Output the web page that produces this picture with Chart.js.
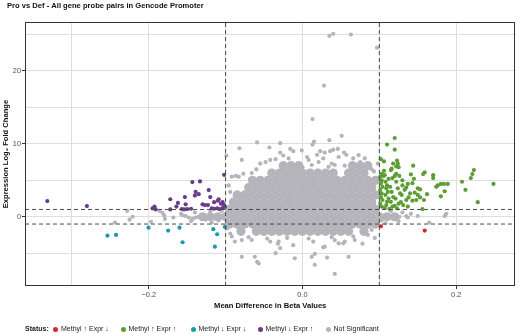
<!DOCTYPE html>
<html><head><meta charset="utf-8">
<script src="https://cdn.jsdelivr.net/npm/chart.js@4/dist/chart.umd.min.js"></script>
<style>
html,body{margin:0;padding:0;background:#fff;}
#wrap{position:relative;width:520px;height:333px;overflow:hidden;}
#legend{position:absolute;left:0;top:323px;height:12px;width:520px;font-family:'Liberation Sans',Arial,sans-serif;font-size:7px;color:#222;}
#legend span{position:absolute;top:0;line-height:12px;white-space:nowrap;}
#legend i{position:absolute;top:3.5px;width:5px;height:5px;border-radius:50%;}
</style></head><body>
<div id="wrap"><canvas id="c" width="520" height="333"></canvas><div id="legend"></div></div>
<script>
// ---------- data ----------
const chartTitle = 'Pro vs Def - All gene probe pairs in Gencode Promoter';
const xTitle = 'Mean Difference in Beta Values';
const yTitle = 'Expression Log\u2082 Fold Change';
const legendTitle = 'Status:';
const statusLabels = ['Methyl \u2191 Expr \u2193','Methyl \u2191 Expr \u2191','Methyl \u2193 Expr \u2193','Methyl \u2193 Expr \u2191','Not Significant'];
const statusColors = ['#d42a2a','#5c9e36','#1f9aaa','#6a3a8c','#b4b4ba'];
const xGridValues = [-0.3,-0.2,-0.1,0,0.1,0.2];
const xLabelValues = [-0.2,0,0.2];
const yGridValues = [-5,0,5,10,15,20,25];
const yLabelValues = [0,10,20];
const xRange = [-0.361,0.277];
const yRange = [-9.5,26.7];
const methylCut = 0.1;
const exprCut = 1;

const redPoints = [[0.102,-1.3],[0.159,-1.9]];

const tealPoints = [[-0.2537,-2.6],[-0.2425,-2.5],[-0.2003,-1.5],[-0.1748,-1.9],[-0.160,-1.5],
 [-0.156,-3.5],[-0.116,-1.7],[-0.111,-2.4],[-0.114,-4.1],[-0.101,-1.4]];

const purplePoints = [[-0.332,2.15],[-0.2805,1.47],[-0.1925,1.4],[-0.195,1.15],[-0.191,1.0],
 [-0.172,2.4],[-0.172,1.0],[-0.164,1.4],[-0.162,1.9],[-0.157,1.05],[-0.154,1.0],[-0.150,1.05],
 [-0.153,2.7],[-0.152,1.7],[-0.1433,4.75],[-0.1333,4.85],[-0.122,3.66],[-0.139,3.4],[-0.135,3.1],
 [-0.140,2.9],[-0.130,1.7],[-0.127,1.6],[-0.123,1.6],[-0.118,1.15],[-0.115,1.1],[-0.111,1.15],
 [-0.115,2.0],[-0.109,2.4],[-0.110,2.2],[-0.104,2.0],[-0.102,1.6],[-0.104,1.2],[-0.101,1.4],
 [-0.102,5.75],[-0.145,1.1],[-0.108,1.05],[-0.106,1.8],[-0.120,2.7]];

const greenPoints = [[0.120,10.8],[0.110,9.9],[0.120,9.2],[0.102,7.9],[0.106,7.6],
 [0.118,7.3],[0.123,7.7],[0.124,7.3],[0.122,6.9],[0.125,6.8],[0.116,6.6],[0.144,7.0],
 [0.103,5.9],[0.105,5.6],[0.107,5.7],[0.122,5.9],[0.126,5.6],[0.120,5.6],
 [0.141,5.8],[0.157,5.85],[0.159,6.1],[0.170,5.7],[0.170,5.3],[0.145,5.2],
 [0.137,4.5],[0.143,4.6],[0.150,3.9],[0.153,3.75],
 [0.174,4.1],[0.176,4.3],[0.180,4.5],[0.184,4.5],[0.189,4.5],[0.185,3.5],[0.180,2.8],
 [0.2075,4.8],[0.212,3.7],[0.219,5.3],[0.221,5.85],[0.223,6.4],[0.228,2.0],[0.2485,4.5],[0.158,2.3],
 [0.101,5.5],[0.103,5.0],[0.102,4.6],[0.104,4.1],[0.101,3.7],[0.103,3.2],[0.102,2.7],[0.104,2.3],[0.101,1.8],[0.103,1.4],
 [0.108,4.8],[0.110,4.3],[0.109,3.9],[0.111,3.4],[0.108,3.0],[0.112,2.5],[0.110,2.05],[0.109,1.6],
 [0.115,6.4],[0.117,5.3],[0.114,4.1],[0.116,3.4],[0.118,2.7],[0.115,2.05],[0.117,1.4],
 [0.122,4.8],[0.124,3.9],[0.127,3.2],[0.121,2.5],[0.125,1.8],[0.123,1.15],
 [0.130,4.3],[0.133,3.7],[0.129,3.0],[0.135,2.3],[0.131,1.6],
 [0.140,3.2],[0.138,2.65],[0.143,2.2],[0.137,1.4],
 [0.150,3.0],[0.153,2.65],[0.148,2.3],[0.156,1.05],
 [0.107,1.2],[0.113,1.1],[0.120,1.5],[0.128,2.0],[0.106,6.3],[0.112,5.2],[0.130,5.0],[0.135,4.0],[0.146,3.3],[0.162,3.1]];

const grayPoints = [[0.035,24.8],[0.040,25.1],[0.063,25.0],[0.097,23.2],[0.028,18.0],[0.013,13.4],[0.051,11.1],
 [0.035,10.5],[0.015,10.3],[0.013,9.9],[-0.059,10.2],[-0.029,10.1],[-0.043,9.5],[-0.082,9.4],
 [-0.079,7.8],[-0.099,8.4],[-0.077,5.9],[-0.092,5.5],[-0.087,5.6],[-0.083,5.5],[-0.096,4.3],[-0.094,3.4],
 [-0.016,9.3],[-0.012,9.0],[-0.001,9.1],[0.023,9.0],[0.029,8.8],[0.036,9.0],[0.040,9.2],[0.046,9.3],[0.054,8.8],
 [-0.066,6.0],[-0.055,7.3],[-0.048,7.5],[-0.042,7.8],[-0.035,7.9],[-0.029,8.8],[-0.025,8.4],[-0.018,8.0],
 [0.006,8.2],[0.008,7.8],[0.019,8.5],[0.027,8.0],[0.021,7.5],[0.047,8.2],[0.057,8.5],[0.066,8.0],[0.073,8.45],
 [0.075,7.5],[0.081,8.0],[0.085,7.3],[0.034,6.85],[0.038,7.3],[0.042,7.1],[0.098,7.3],
 [-0.010,7.0],[-0.025,7.0],[0.000,6.8],[0.012,7.1],[0.055,7.0],[0.065,7.2],[0.090,6.5],[0.095,5.0],[0.093,6.2],
 [-0.060,6.5],[-0.068,5.2],
 [-0.228,0.8],[-0.221,0.0],[-0.225,-0.4],[-0.244,-0.8],[-0.197,-0.7],[-0.186,0.8],[-0.180,0.2],[-0.179,-0.3],
 [-0.168,-0.1],[-0.182,0.5],[-0.158,0.4],[-0.156,0.2],[-0.152,0.1],[-0.148,-0.1],[-0.143,-0.3],[-0.139,-0.1],
 [-0.135,0.0],[-0.130,-0.2],[-0.126,-0.4],[-0.117,-0.1],[-0.113,-0.3],[-0.109,-0.5],[-0.140,0.6],[-0.120,0.7],
 [-0.105,0.8],[-0.145,-0.6],[-0.118,-0.8],
 [0.150,0.1],[0.165,-0.8],[0.185,0.1],[0.187,0.4],[0.126,0.0],[0.135,0.1],[0.137,-0.1],[0.141,0.4],
 [0.103,-0.5],[0.111,0.0],[0.118,-0.3],[0.122,-0.1],[0.094,-2.9],[0.130,0.6],[0.115,0.8],[0.108,-0.9],[0.125,-0.6],
 [-0.079,-5.5],[-0.062,-5.5],[-0.059,-6.2],[-0.057,-6.4],[-0.035,-5.0],[-0.029,-4.3],[-0.031,-3.4],[-0.032,-3.7],
 [-0.012,-3.9],[-0.010,-5.7],[0.012,-5.5],[0.016,-5.1],[0.016,-6.6],[0.032,-5.6],[0.027,-4.2],[0.029,-4.1],
 [0.042,-7.85],[0.060,-5.5],[0.053,-3.65],[0.055,-3.4],[0.078,-3.7],[-0.066,-3.2],[-0.070,-2.8],[-0.079,-3.2],
 [-0.094,-2.3],[-0.092,-2.7],[-0.046,-3.0],[-0.042,-3.4],[0.008,-3.0],[0.014,-3.4],[0.038,-2.8],[0.042,-3.2],
 [0.047,-3.65],[0.066,-2.7],[0.068,-3.2],[-0.088,-3.4],[-0.020,-2.9],[0.085,-2.5],[0.090,-1.8],[-0.098,-1.6]];

// dense centre of the not-significant cloud (drawn with larger dots)
const grayCorePoints = [
 [-0.025,7],[-0.015,7],[-0.005,7],[0.065,7],[0.075,7],[0.085,7],
 [-0.04,6],[-0.03,6],[-0.02,6],[-0.01,6],[0,6],[0.01,6],[0.02,6],[0.03,6],[0.04,6],[0.06,6],[0.07,6],[0.08,6],
 [-0.065,5],[-0.055,5],[-0.045,5],[-0.035,5],[-0.025,5],[-0.015,5],[-0.005,5],[0.005,5],[0.015,5],[0.025,5],
 [0.035,5],[0.045,5],[0.055,5],[0.065,5],[0.075,5],[0.085,5],[0.095,5],
 [-0.07,4],[-0.06,4],[-0.05,4],[-0.04,4],[-0.03,4],[-0.02,4],[-0.01,4],[0,4],[0.01,4],[0.02,4],[0.03,4],
 [0.04,4],[0.05,4],[0.06,4],[0.07,4],[0.08,4],[0.09,4],
 [-0.085,3],[-0.075,3],[-0.065,3],[-0.055,3],[-0.045,3],[-0.035,3],[-0.025,3],[-0.015,3],[-0.005,3],[0.005,3],
 [0.015,3],[0.025,3],[0.035,3],[0.045,3],[0.055,3],[0.065,3],[0.075,3],[0.085,3],[0.095,3],
 [-0.09,2],[-0.08,2],[-0.07,2],[-0.06,2],[-0.05,2],[-0.04,2],[-0.03,2],[-0.02,2],[-0.01,2],[0,2],[0.01,2],
 [0.02,2],[0.03,2],[0.04,2],[0.05,2],[0.06,2],[0.07,2],[0.08,2],[0.09,2],
 [-0.095,1],[-0.085,1],[-0.075,1],[-0.065,1],[-0.055,1],[-0.045,1],[-0.035,1],[-0.025,1],[-0.015,1],[-0.005,1],
 [0.005,1],[0.015,1],[0.025,1],[0.035,1],[0.045,1],[0.055,1],[0.065,1],[0.075,1],[0.085,1],[0.095,1],
 [-0.13,0],[-0.12,0],[-0.11,0],[-0.1,0],[-0.09,0],[-0.08,0],[-0.07,0],[-0.06,0],[-0.05,0],[-0.04,0],[-0.03,0],
 [-0.02,0],[-0.01,0],[0,0],[0.01,0],[0.02,0],[0.03,0],[0.04,0],[0.05,0],[0.06,0],[0.07,0],[0.08,0],[0.09,0],
 [0.1,0],[0.11,0],[0.12,0],
 [-0.095,-1],[-0.085,-1],[-0.075,-1],[-0.065,-1],[-0.055,-1],[-0.045,-1],[-0.035,-1],[-0.025,-1],[-0.015,-1],
 [-0.005,-1],[0.005,-1],[0.015,-1],[0.025,-1],[0.035,-1],[0.045,-1],[0.055,-1],[0.065,-1],[0.075,-1],[0.085,-1],[0.095,-1],
 [-0.08,-2],[-0.06,-2],[-0.05,-2],[-0.04,-2],[-0.03,-2],[-0.02,-2],[-0.01,-2],[0,-2],[0.01,-2],[0.02,-2],
 [0.03,-2],[0.04,-2],[0.05,-2],[0.06,-2],[0.08,-2]];

// ---------- chart ----------
const FONT = "'Liberation Sans', Arial, Helvetica, sans-serif";
const pts = a => a.map(p => ({x: p[0], y: p[1]}));
const near = (v, list) => list.some(m => Math.abs(m - v) < 1e-9);
const fmtX = v => Math.abs(v) < 1e-9 ? '0.0' : (v < 0 ? '\u2212' : '') + Math.abs(v).toFixed(1);

function refLine(data) {
  return {type: 'line', data: pts(data), borderColor: '#4a4a4a', borderWidth: 1, borderDash: [4, 3],
          pointRadius: 0, showLine: true, fill: false, tension: 0};
}
function dots(data, color, r) {
  return {type: 'scatter', data: pts(data), pointRadius: r, pointHoverRadius: r,
          pointBackgroundColor: color, pointBorderWidth: 0, borderColor: color, backgroundColor: color};
}

const frame = {
  id: 'frame',
  afterDraw(chart) {
    const {ctx, chartArea: a} = chart;
    ctx.save();
    ctx.strokeStyle = '#333';
    ctx.lineWidth = 1;
    ctx.strokeRect(Math.round(a.left) + 0.5, Math.round(a.top) + 0.5,
                   Math.round(a.right - a.left) - 1, Math.round(a.bottom - a.top) - 1);
    ctx.restore();
  }
};

new Chart(document.getElementById('c'), {
  type: 'scatter',
  data: {
    datasets: [
      refLine([[-methylCut, yRange[0]], [-methylCut, yRange[1]]]),
      refLine([[methylCut, yRange[0]], [methylCut, yRange[1]]]),
      refLine([[xRange[0], exprCut], [xRange[1], exprCut]]),
      refLine([[xRange[0], -exprCut], [xRange[1], -exprCut]]),
      dots(redPoints, statusColors[0], 2.1),
      dots(greenPoints, statusColors[1], 2.1),
      dots(tealPoints, statusColors[2], 2.1),
      dots(purplePoints, statusColors[3], 2.1),
      dots(grayPoints, statusColors[4], 2.1),
      dots(grayCorePoints, statusColors[4], 4.6)
    ]
  },
  options: {
    responsive: false, animation: false, devicePixelRatio: 1,
    layout: {padding: {left: 7, right: 2, top: 0, bottom: 20}},
    plugins: {
      legend: {display: false},
      tooltip: {enabled: false},
      title: {display: true, text: chartTitle, align: 'start', color: '#111',
              font: {family: FONT, size: 7.6, weight: 'bold'}, padding: {top: 1, bottom: 12}}
    },
    scales: {
      x: {
        type: 'linear', min: xRange[0], max: xRange[1],
        afterBuildTicks: s => { s.ticks = xGridValues.map(v => ({value: v})); },
        afterFit: s => { s.height = 27; },
        ticks: {padding: 2, color: '#4d4d4d', font: {family: FONT, size: 7.4},
                callback: v => near(v, xLabelValues) ? fmtX(v) : ''},
        grid: {color: '#dedede', lineWidth: 1, tickLength: 3,
               tickColor: c => (c.tick && near(c.tick.value, xLabelValues)) ? '#333' : 'rgba(0,0,0,0)'},
        border: {display: false},
        title: {display: true, text: xTitle, color: '#111', font: {family: FONT, size: 7.6, weight: 'bold'},
                padding: {top: 0, bottom: 2.5}}
      },
      y: {
        type: 'linear', min: yRange[0], max: yRange[1],
        afterBuildTicks: s => { s.ticks = yGridValues.map(v => ({value: v})); },
        afterFit: s => { s.width = 18; },
        ticks: {padding: 1, color: '#4d4d4d', font: {family: FONT, size: 7.4},
                callback: v => near(v, yLabelValues) ? String(v) : ''},
        grid: {color: '#dedede', lineWidth: 1, tickLength: 3,
               tickColor: c => (c.tick && near(c.tick.value, yLabelValues)) ? '#333' : 'rgba(0,0,0,0)'},
        border: {display: false},
        title: {display: true, text: yTitle, color: '#111', font: {family: FONT, size: 7.6, weight: 'bold'},
                padding: {top: -5.5, bottom: 0}}
      }
    }
  },
  plugins: [frame]
});

// ---------- legend ----------
const lg = document.getElementById('legend');
const titleSpan = document.createElement('span');
titleSpan.textContent = legendTitle;
titleSpan.style.left = '25px';
titleSpan.style.fontWeight = 'bold';
lg.appendChild(titleSpan);
const dotX = [53, 120.5, 190.5, 257.5, 325.5];
statusLabels.forEach((t, i) => {
  const d = document.createElement('i');
  d.style.left = dotX[i] + 'px';
  d.style.background = statusColors[i];
  lg.appendChild(d);
  const s = document.createElement('span');
  s.textContent = t;
  s.style.left = (dotX[i] + 8) + 'px';
  lg.appendChild(s);
});
</script>
</body></html>
